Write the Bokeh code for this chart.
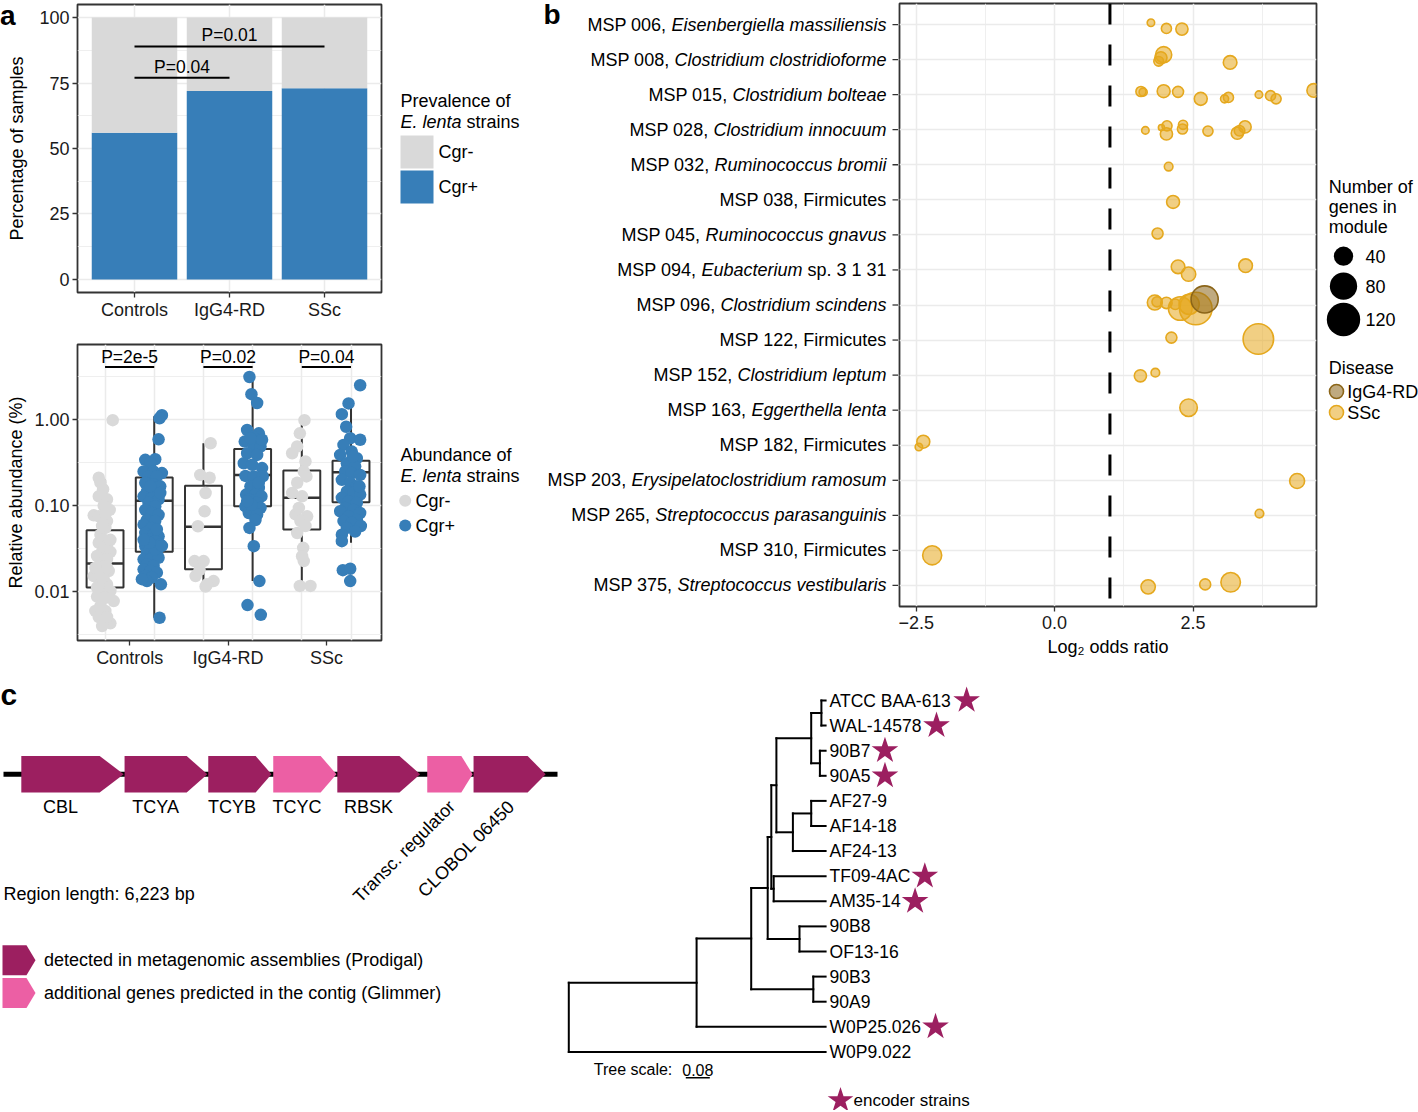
import math
from bokeh.plotting import figure
from bokeh.layouts import row, column
from bokeh.models import Range1d, FixedTicker, PrintfTickFormatter, Div
from bokeh.embed import file_html
from bokeh.resources import INLINE
from bokeh.core.properties import value

# ============================== DATA ==============================
GROUPS = ["Controls", "IgG4-RD", "SSc"]
STRAINS = ["Cgr-", "Cgr+"]

# (a, top) prevalence of E. lenta strains (% of samples that carry Cgr+ strains)
PREV_CGR_POS = [56, 72, 73]
PREV_TOTAL = 100
PREV_P_TEXT = ["P=0.04", "P=0.01"]
PREV_P_FROM = ["Controls", "Controls"]
PREV_P_TO = ["IgG4-RD", "SSc"]
PREV_P_HEIGHT = [77, 89]

# (a, bottom) relative abundance (%) - box summaries
BOX_GROUP = ["Controls", "Controls", "IgG4-RD", "IgG4-RD", "SSc", "SSc"]
BOX_STRAIN = ["Cgr-", "Cgr+", "Cgr-", "Cgr+", "Cgr-", "Cgr+"]
BOX_LO = [0.0040, 0.0050, 0.0115, 0.0133, 0.0115, 0.037]
BOX_Q1 = [0.0112, 0.0291, 0.0182, 0.098, 0.0527, 0.109]
BOX_MED = [0.0213, 0.114, 0.0566, 0.226, 0.123, 0.244]
BOX_Q3 = [0.0517, 0.212, 0.170, 0.454, 0.255, 0.330]
BOX_HI = [0.199, 1.09, 0.528, 3.1, 0.98, 1.45]
ABUND_P_TEXT = ["P=2e-5", "P=0.02", "P=0.04"]
ABUND_P_HEIGHT = 4.05

# individual samples (value, horizontal jitter)
CTRL_NEG = [0.98, 0.21, 0.185, 0.155, 0.128, 0.118, 0.10, 0.089, 0.077, 0.075, 0.066, 0.055,
            0.046, 0.040, 0.037, 0.034, 0.029, 0.029, 0.026, 0.024, 0.021, 0.0195, 0.0174, 0.0174,
            0.0152, 0.0140, 0.0122, 0.0117, 0.0102, 0.0095, 0.0088, 0.0085, 0.0078, 0.0068, 0.0060,
            0.0060, 0.0051, 0.0046, 0.0043, 0.0040, 0.0051, 0.0112, 0.0145, 0.019, 0.019, 0.040,
            0.058, 0.080]
CTRL_NEG_JIT = [0.078, -0.064, -0.047, -0.02, -0.064, 0.02, -0.014, 0.047, -0.115, -0.064, 0.02,
                0.003, -0.047, -0.014, -0.064, 0.02, -0.03, 0.054, -0.081, 0.02, -0.047, -0.014,
                -0.064, 0.037, -0.115, -0.014, 0.02, -0.064, 0.054, -0.03, -0.081, 0.003, 0.088,
                -0.047, -0.098, 0.003, -0.064, -0.014, 0.054, -0.03, 0.02, -0.081, -0.03, 0.02,
                -0.098, 0.054, -0.03, 0.003]
CTRL_POS = [1.12, 1.03, 0.587, 0.339, 0.345, 0.31, 0.249, 0.249, 0.238, 0.218, 0.218, 0.184,
            0.176, 0.167, 0.146, 0.140, 0.128, 0.123, 0.118, 0.107, 0.098, 0.089, 0.082, 0.078,
            0.068, 0.066, 0.060, 0.055, 0.048, 0.046, 0.044, 0.040, 0.0386, 0.0353, 0.0338,
            0.0323, 0.0296, 0.0283, 0.0259, 0.0238, 0.0238, 0.0248, 0.0208, 0.0199, 0.0182,
            0.0174, 0.0167, 0.0152, 0.0146, 0.0133, 0.0140, 0.0122, 0.0050, 0.031, 0.037, 0.034,
            0.040, 0.053, 0.167, 0.140]
CTRL_POS_JIT = [0.078, 0.054, 0.044, -0.091, 0.01, -0.04, -0.108, -0.007, 0.078, -0.058, 0.027,
                -0.091, -0.007, 0.061, -0.074, 0.01, -0.108, -0.024, 0.044, -0.058, 0.01, -0.091,
                -0.024, 0.044, -0.074, 0.01, -0.108, -0.024, -0.091, -0.007, 0.044, -0.058, 0.01,
                0.061, -0.091, -0.024, 0.027, -0.074, -0.007, -0.108, -0.04, 0.044, -0.074, -0.007,
                -0.108, -0.04, 0.027, -0.091, -0.024, -0.074, -0.125, 0.068, 0.054, 0.01, -0.047,
                0.078, -0.108, 0.027, -0.04, 0.061]
IGG_NEG = [0.528, 0.227, 0.21, 0.14, 0.0858, 0.0576, 0.0227, 0.0227, 0.0152, 0.0115, 0.0133,
           0.0122, 0.018]
IGG_NEG_JIT = [0.073, -0.032, 0.063, 0.022, 0.012, -0.056, -0.09, 0.002, -0.08, 0.022, 0.103,
               0.036, -0.039]
IGG_POS = [3.1, 1.96, 1.55, 0.752, 0.689, 0.63, 0.552, 0.492, 0.485, 0.405, 0.387, 0.31, 0.297,
           0.272, 0.221, 0.218, 0.218, 0.167, 0.160, 0.134, 0.134, 0.128, 0.118, 0.107, 0.098,
           0.094, 0.094, 0.082, 0.079, 0.068, 0.055, 0.0338, 0.0133, 0.0070, 0.0054, 0.605, 0.58,
           0.184, 0.102, 0.112]
IGG_POS_JIT = [-0.032, -0.012, 0.046, -0.056, 0.063, 0.002, -0.08, 0.012, 0.08, -0.056, 0.046,
               -0.09, -0.005, 0.096, -0.073, 0.012, 0.103, -0.022, 0.063, -0.066, 0.029, 0.09,
               -0.039, 0.046, -0.073, 0.012, 0.08, -0.039, 0.046, 0.029, -0.032, 0.012, 0.069,
               -0.052, 0.083, -0.022, 0.096, 0.063, -0.012, -0.056]
SSC_NEG = [0.98, 0.689, 0.485, 0.405, 0.325, 0.249, 0.184, 0.140, 0.128, 0.079, 0.075, 0.066,
           0.058, 0.048, 0.0323, 0.0259, 0.0227, 0.0117, 0.0117, 0.094, 0.218]
SSC_NEG_JIT = [0.027, -0.02, -0.047, -0.098, 0.037, 0.02, -0.047, -0.098, 0.003, -0.064, 0.054,
               -0.014, 0.037, -0.047, 0.014, 0.003, 0.02, -0.02, 0.088, -0.03, 0.047]
SSC_POS = [2.49, 1.53, 1.15, 0.822, 0.604, 0.58, 0.505, 0.423, 0.354, 0.387, 0.31, 0.285, 0.249,
           0.238, 0.227, 0.199, 0.184, 0.167, 0.146, 0.140, 0.134, 0.123, 0.112, 0.107, 0.094,
           0.089, 0.082, 0.086, 0.075, 0.068, 0.066, 0.063, 0.058, 0.055, 0.050, 0.046, 0.0386,
           0.0178, 0.0185, 0.0133, 0.167, 0.37]
SSC_POS_JIT = [0.093, -0.025, -0.093, -0.049, -0.008, 0.093, -0.076, 0.008, 0.059, -0.11, -0.042,
               0.042, -0.059, 0.008, 0.093, -0.093, -0.008, 0.059, -0.042, 0.025, 0.093, -0.093,
               -0.025, 0.059, -0.059, 0.025, 0.093, -0.11, -0.025, 0.059, -0.076, 0.008, 0.10,
               -0.042, 0.042, -0.093, -0.093, -0.083, -0.008, -0.008, 0.086, 0.019]

# (b) MSPs and module enrichment
MSP_ID = ["MSP 006", "MSP 008", "MSP 015", "MSP 028", "MSP 032", "MSP 038", "MSP 045", "MSP 094",
          "MSP 096", "MSP 122", "MSP 152", "MSP 163", "MSP 182", "MSP 203", "MSP 265", "MSP 310",
          "MSP 375"]
MSP_TAXON = ["Eisenbergiella massiliensis", "Clostridium clostridioforme", "Clostridium bolteae",
             "Clostridium innocuum", "Ruminococcus bromii", "Firmicutes", "Ruminococcus gnavus",
             "Eubacterium sp. 3 1 31", "Clostridium scindens", "Firmicutes", "Clostridium leptum",
             "Eggerthella lenta", "Firmicutes", "Erysipelatoclostridium ramosum",
             "Streptococcus parasanguinis", "Firmicutes", "Streptococcus vestibularis"]
ODDS_REF = 1.0
MOD_MSP = (["MSP 006"] * 3 + ["MSP 008"] * 4 + ["MSP 015"] * 11 + ["MSP 028"] * 10 +
           ["MSP 032", "MSP 038", "MSP 045"] + ["MSP 094"] * 3 + ["MSP 096"] * 8 +
           ["MSP 122"] * 2 + ["MSP 152"] * 2 + ["MSP 163"] + ["MSP 182"] * 2 +
           ["MSP 203", "MSP 265", "MSP 310"] + ["MSP 375"] * 3)
MOD_LOG2OR = [1.74, 2.02, 2.30,
              1.88, 1.92, 1.97, 3.17,
              1.56, 1.60, 1.97, 2.23, 2.64, 3.07, 3.14, 3.69, 3.90, 4.00, 4.68,
              1.64, 1.93, 2.03, 2.02, 2.32, 2.31, 2.77, 3.30, 3.34, 3.44,
              2.06, 2.14, 1.86,
              2.23, 2.42, 3.45,
              1.81, 1.85, 2.02, 2.18, 2.27, 2.43, 2.55, 2.71,
              2.11, 3.68,
              1.55, 1.82,
              2.42,
              -2.37, -2.45,
              4.38, 3.70, -2.21,
              1.69, 2.72, 3.18]
MOD_GENES = [6, 11, 16,
             10, 16, 28, 20,
             11, 7, 18, 13, 18, 7, 11, 6, 11, 11, 20,
             6, 4, 11, 16, 9, 11, 11, 16, 12, 16,
             8, 18, 13,
             20, 22, 20,
             24, 11, 14, 12, 60, 44, 114, 79,
             13, 100,
             16, 8,
             33,
             18, 6,
             24, 8, 39,
             22, 13, 41]
MOD_DY = [-0.05, 0.11, 0.13,
          0.05, -0.05, -0.14, 0.08,
          -0.09, -0.07, -0.10, -0.08, 0.12, 0.12, 0.08, 0.0, 0.03, 0.12, -0.12,
          0.02, -0.06, -0.11, 0.12, -0.14, -0.02, 0.04, 0.10, 0.03, -0.08,
          0.05, 0.06, -0.04,
          -0.09, 0.12, -0.12,
          -0.07, -0.09, -0.06, -0.02, 0.10, -0.02, 0.10, -0.16,
          -0.07, -0.03,
          0.02, -0.07,
          -0.07,
          -0.10, 0.05,
          0.02, -0.05, 0.14,
          0.04, -0.03, -0.09]
MOD_DISEASE = ["SSc"] * 41 + ["IgG4-RD"] + ["SSc"] * 13
SIZE_BREAKS = [40, 80, 120]
DISEASES = ["IgG4-RD", "SSc"]

# (c) gene cluster
REGION_LEN = 6223
GENE_NAMES = ["CBL", "TCYA", "TCYB", "TCYC", "RBSK", "Transc. regulator", "CLOBOL 06450"]
GENE_START = [200, 1360, 2300, 3030, 3750, 4760, 5280]
GENE_END = [1350, 2290, 3010, 3740, 4680, 5270, 6090]
GENE_SOURCE = ["Prodigal", "Prodigal", "Prodigal", "Glimmer", "Prodigal", "Glimmer", "Prodigal"]
SOURCE_KEYS = ["Prodigal", "Glimmer"]
SOURCE_TEXT = ["detected in metagenomic assemblies (Prodigal)",
               "additional genes predicted in the contig (Glimmer)"]

# (c) tree of E. lenta strains
TREE_TIPS = ["ATCC BAA-613", "WAL-14578", "90B7", "90A5", "AF27-9", "AF14-18", "AF24-13",
             "TF09-4AC", "AM35-14", "90B8", "OF13-16", "90B3", "90A9", "W0P25.026", "W0P9.022"]
TREE_ENCODER = [1, 1, 1, 1, 0, 0, 0, 1, 1, 0, 0, 0, 0, 1, 0]
TREE_TIP_DEPTH = 0.856
NODE_IDS = ["root", "n1", "n2", "n3", "n4", "n5", "n6", "n7", "n8", "n9", "n10", "n11", "n12", "n13"]
NODE_DEPTH = [0.000, 0.426, 0.608, 0.815, 0.663, 0.769, 0.675, 0.683, 0.692, 0.808, 0.842, 0.837,
              0.747, 0.808]
NODE_CHILDREN = [["n1", "W0P9.022"], ["n2", "W0P25.026"], ["n4", "n3"], ["90B3", "90A9"],
                 ["n6", "n5"], ["90B8", "OF13-16"], ["n8", "n7"], ["TF09-4AC", "AM35-14"],
                 ["n9", "n12"], ["n10", "n11"], ["ATCC BAA-613", "WAL-14578"], ["90B7", "90A5"],
                 ["n13", "AF24-13"], ["AF27-9", "AF14-18"]]
TREE_SCALE = 0.08

# ============================== STYLE ==============================
FONT = "Liberation Sans"
DARK = "#333333"
GRID = "#EBEBEB"
GRAY = "#D9D9D9"
BLUE = "#377EB8"
SSC_COL = "#E5A81E"
IGG_COL = "#8B6518"
DIS_COL = {"SSc": SSC_COL, "IgG4-RD": IGG_COL}
MAG = "#9C1F60"
PINK = "#EC5FA4"
SRC_COL = {"Prodigal": MAG, "Glimmer": PINK}
STRAIN_COL = {"Cgr-": GRAY, "Cgr+": BLUE}
MID = 0.3465   # em-box middle above the baseline (fraction of font size)

AW = {' ': 278, ',': 278, '-': 333, '.': 278, ':': 278, '(': 333, ')': 333, '=': 584, '%': 889,
      'A': 667, 'B': 667, 'C': 722, 'D': 722, 'E': 667, 'F': 611, 'G': 778, 'H': 722, 'I': 278,
      'J': 500, 'K': 667, 'L': 556, 'M': 833, 'N': 722, 'O': 778, 'P': 667, 'Q': 778, 'R': 722,
      'S': 667, 'T': 611, 'U': 722, 'V': 667, 'W': 944, 'X': 667, 'Y': 667, 'Z': 611,
      'a': 556, 'b': 556, 'c': 500, 'd': 556, 'e': 556, 'f': 278, 'g': 556, 'h': 556, 'i': 222,
      'j': 222, 'k': 500, 'l': 222, 'm': 833, 'n': 556, 'o': 556, 'p': 556, 'q': 556, 'r': 333,
      's': 500, 't': 278, 'u': 556, 'v': 500, 'w': 722, 'x': 500, 'y': 500, 'z': 500}
for _d in "0123456789":
    AW[_d] = 556


def tw(s, px):
    return sum(AW.get(ch, 556) for ch in s) * px / 1000.0


def add_text(p, x, y, s, size=18, align="left", baseline="middle", style="normal",
             color="black", angle=0.0, x_offset=0):
    p.text(x=[x], y=[y], text=[s], text_font=value(FONT), text_font_size=f"{size}px",
           text_align=align, text_baseline=baseline, text_font_style=style,
           text_color=color, angle=angle, x_offset=x_offset)


def canvas(w, h, xr=None, yr=None, top=0, bottom=0):
    p = figure(width=w, height=h, x_range=xr if xr is not None else Range1d(0, w),
               y_range=yr if yr is not None else Range1d(h - bottom, top),
               output_backend="svg", toolbar_location=None, min_border=0,
               min_border_top=top, min_border_bottom=bottom,
               x_axis_location=None, y_axis_location=None)
    p.grid.visible = False
    p.outline_line_color = None
    p.background_fill_color = "white"
    p.border_fill_color = "white"
    return p


def theme(p):
    p.background_fill_color = "white"
    p.border_fill_color = "white"
    p.outline_line_color = DARK
    p.outline_line_width = 1.8
    for ax in p.axis:
        ax.axis_line_color = None
        ax.major_tick_line_color = DARK
        ax.major_tick_line_width = 1.3
        ax.major_tick_out = 5
        ax.major_tick_in = 0
        ax.minor_tick_line_color = None
        ax.major_label_standoff = 3
        ax.major_label_text_font = FONT
        ax.major_label_text_font_size = "18px"
        ax.major_label_text_color = "#1a1a1a"
        ax.axis_label_text_font = FONT
        ax.axis_label_text_font_size = "18px"
        ax.axis_label_text_font_style = "normal"
        ax.axis_label_text_color = "black"
    for g in p.grid:
        g.grid_line_color = GRID
        g.grid_line_width = 1.5
        g.minor_grid_line_color = GRID
        g.minor_grid_line_width = 0.8


GX = {g: i + 1 for i, g in enumerate(GROUPS)}
DODGE = {"Cgr-": -0.25, "Cgr+": 0.25}

# ============================== PANEL a (top) ==============================
A1_H, A1_T, A1_B = 330, 4, 38
LEG_W = 155
pa1 = figure(width=385, height=A1_H, x_range=Range1d(0.4, 3.6), y_range=Range1d(-5, 105),
             output_backend="svg", toolbar_location=None, min_border_left=77,
             min_border_right=4, min_border_top=A1_T, min_border_bottom=A1_B)
theme(pa1)
tick_x = FixedTicker(ticks=[GX[g] for g in GROUPS])
pa1.xaxis.ticker = tick_x
pa1.xgrid.ticker = tick_x
pa1.xaxis.major_label_overrides = {GX[g]: g for g in GROUPS}
pa1.xaxis.major_label_standoff = 2
tick_y = FixedTicker(ticks=[0, 25, 50, 75, 100], minor_ticks=[12.5, 37.5, 62.5, 87.5])
pa1.yaxis.ticker = tick_y
pa1.ygrid.ticker = tick_y
pa1.yaxis.axis_label = "Percentage of samples"
pa1.yaxis.axis_label_standoff = 9
gx = [GX[g] for g in GROUPS]
pa1.vbar(x=gx, width=0.9, bottom=0, top=PREV_CGR_POS, fill_color=BLUE, line_color=None)
pa1.vbar(x=gx, width=0.9, bottom=PREV_CGR_POS, top=PREV_TOTAL, fill_color=GRAY, line_color=None)
for t, a, b, h in zip(PREV_P_TEXT, PREV_P_FROM, PREV_P_TO, PREV_P_HEIGHT):
    pa1.segment(x0=[GX[a]], x1=[GX[b]], y0=[h], y1=[h], line_color="black", line_width=2)
    add_text(pa1, (GX[a] + GX[b]) / 2, h + 4.3, t, 17.5, align="center")

# panel letter "a" (floats over the top-left corner of the panel)
letter_a = Div(text="a", width=20, height=32,
               styles={"position": "absolute", "left": "0px", "top": "0px", "z-index": "10",
                       "font-family": FONT, "font-size": "28px", "font-weight": "bold",
                       "line-height": "normal", "color": "black", "margin": "0px",
                       "padding": "0px"})

la1 = canvas(LEG_W, A1_H, top=A1_T, bottom=A1_B)
add_text(la1, 15, 100, "Prevalence of", 18)
add_text(la1, 15, 121, "E. lenta", 18, style="italic")
add_text(la1, 15 + tw("E. lenta ", 18), 121, "strains", 18)
for k, s in enumerate(STRAINS):
    top = 135 + k * 35
    la1.quad(left=[15], right=[48], top=[top], bottom=[top + 33], fill_color=STRAIN_COL[s],
             line_color=None)
    add_text(la1, 53, top + 16.5, s, 18)

# ============================== PANEL a (bottom) ==============================
A2_H, A2_T, A2_B = 340, 14, 29
pa2 = figure(width=385, height=A2_H, x_range=Range1d(0.47, 3.56), y_range=Range1d(0.00272, 7.39),
             y_axis_type="log", output_backend="svg", toolbar_location=None,
             min_border_left=77, min_border_right=4, min_border_top=A2_T, min_border_bottom=A2_B)
theme(pa2)
pa2.xaxis.ticker = FixedTicker(ticks=[GX[g] for g in GROUPS])
pa2.xaxis.major_label_overrides = {GX[g]: g for g in GROUPS}
pa2.xaxis.major_label_standoff = 2
pa2.xgrid.ticker = FixedTicker(ticks=sorted(GX[g] + DODGE[s] for g in GROUPS for s in STRAINS))
tick_log = FixedTicker(ticks=[0.01, 0.1, 1], minor_ticks=[0.00316, 0.0316, 0.316, 3.16])
pa2.yaxis.ticker = tick_log
pa2.ygrid.ticker = tick_log
pa2.yaxis.formatter = PrintfTickFormatter(format="%.2f")
pa2.yaxis.axis_label = "Relative abundance (%)"
pa2.yaxis.axis_label_standoff = 5

bx = [GX[g] + DODGE[s] for g, s in zip(BOX_GROUP, BOX_STRAIN)]
pa2.segment(x0=bx, x1=bx, y0=BOX_Q3, y1=BOX_HI, line_color=DARK, line_width=2)
pa2.segment(x0=bx, x1=bx, y0=BOX_LO, y1=BOX_Q1, line_color=DARK, line_width=2)
pa2.vbar(x=bx, width=0.375, bottom=BOX_Q1, top=BOX_Q3, fill_color="white", line_color=DARK,
         line_width=2)
pa2.segment(x0=[x - 0.1875 for x in bx], x1=[x + 0.1875 for x in bx], y0=BOX_MED, y1=BOX_MED,
            line_color=DARK, line_width=2.5)
SAMPLES = [("Controls", "Cgr-", CTRL_NEG, CTRL_NEG_JIT), ("Controls", "Cgr+", CTRL_POS, CTRL_POS_JIT),
           ("IgG4-RD", "Cgr-", IGG_NEG, IGG_NEG_JIT), ("IgG4-RD", "Cgr+", IGG_POS, IGG_POS_JIT),
           ("SSc", "Cgr-", SSC_NEG, SSC_NEG_JIT), ("SSc", "Cgr+", SSC_POS, SSC_POS_JIT)]
for g, s, vals, jit in SAMPLES:
    xs = [GX[g] + DODGE[s] + j for j, v in zip(jit, vals)]
    ys = [v for j, v in zip(jit, vals)]
    pa2.scatter(x=xs, y=ys, size=12.5, fill_color=STRAIN_COL[s], line_color=None)
for g, t in zip(GROUPS, ABUND_P_TEXT):
    pa2.segment(x0=[GX[g] + DODGE["Cgr-"]], x1=[GX[g] + DODGE["Cgr+"]], y0=[ABUND_P_HEIGHT],
                y1=[ABUND_P_HEIGHT], line_color="black", line_width=2)
    add_text(pa2, GX[g], ABUND_P_HEIGHT * 1.31, t, 17.5, align="center")

la2 = canvas(LEG_W, A2_H, top=A2_T, bottom=A2_B)
add_text(la2, 15, 125, "Abundance of", 18)
add_text(la2, 15, 145.5, "E. lenta", 18, style="italic")
add_text(la2, 15 + tw("E. lenta ", 18), 145.5, "strains", 18)
for k, s in enumerate(STRAINS):
    yy = 170.7 + k * 25
    la2.scatter(x=[19.7], y=[yy], size=12, fill_color=STRAIN_COL[s], line_color=None)
    add_text(la2, 30, yy, s, 18)

# ============================== PANEL b ==============================
B_H, B_TOP, B_BOT = 670, 3, 64
NROW = len(MSP_ID)
Y_LO, Y_HI = 0.4, NROW + 0.6
PXR = (B_H - B_TOP - B_BOT) / (Y_HI - Y_LO)
ROW = {m: i + 1 for i, m in enumerate(MSP_ID)}

LAB_W = 358
pbl = canvas(LAB_W, B_H, yr=Range1d(Y_HI, Y_LO), top=B_TOP, bottom=B_BOT)
R = LAB_W - 12
for mid, tax in zip(MSP_ID, MSP_TAXON):
    y = ROW[mid]
    if tax == "Firmicutes":
        parts = [(mid + ", " + tax, "normal")]
    elif " sp. " in tax:
        genus, rest = tax.split(" ", 1)
        parts = [(mid + ",", "normal"), (genus, "italic"), (rest, "normal")]
    else:
        parts = [(mid + ",", "normal"), (tax, "italic")]
    x = R
    for text, style in reversed(parts):
        add_text(pbl, x, y, text, 18, align="right", style=style)
        x -= tw(text, 18) + tw(" ", 18)
rows = [ROW[m] for m in MSP_ID]
pbl.segment(x0=[LAB_W - 6] * NROW, x1=[LAB_W] * NROW, y0=rows, y1=rows, line_color=DARK,
            line_width=1.3)
add_text(pbl, 3, Y_LO + (13.5 - B_TOP) / PXR, "b", 28, style="bold")

PB_W = 420
pb = figure(width=PB_W, height=B_H, x_range=Range1d(-2.8, 4.73), y_range=Range1d(Y_HI, Y_LO),
            output_backend="svg", toolbar_location=None, min_border_left=1, min_border_right=2,
            min_border_top=B_TOP, min_border_bottom=B_BOT, y_axis_location=None,
            x_axis_label="Log\u2082 odds ratio")
theme(pb)
tick_b = FixedTicker(ticks=[-2.5, 0, 2.5], minor_ticks=[-1.25, 1.25, 3.75])
pb.xaxis.ticker = tick_b
pb.xgrid.ticker = tick_b
pb.xaxis.major_label_overrides = {-2.5: "\u22122.5", 0: "0.0", 2.5: "2.5"}
pb.xaxis.major_label_standoff = 4
pb.xaxis.axis_label_standoff = 5
pb.ygrid.ticker = FixedTicker(ticks=rows)
pb.segment(x0=[ODDS_REF], x1=[ODDS_REF], y0=[Y_LO], y1=[Y_HI], line_color="black",
           line_width=3, line_dash="21 20")


def gene_size(n):
    return 3.05 * math.sqrt(n)


for dis in ["SSc", "IgG4-RD"]:
    idx = [i for i, d in enumerate(MOD_DISEASE) if d == dis]
    pb.scatter(x=[MOD_LOG2OR[i] for i in idx], y=[ROW[MOD_MSP[i]] + MOD_DY[i] for i in idx],
               size=[gene_size(MOD_GENES[i]) for i in idx], fill_color=DIS_COL[dis],
               fill_alpha=0.55, line_color=DIS_COL[dis], line_width=1.6)

TOTAL_W = 1418
PBG_W = TOTAL_W - (385 + LEG_W) - LAB_W - PB_W
pbg = canvas(PBG_W, B_H, top=B_TOP, bottom=B_BOT)
for k, t in enumerate(["Number of", "genes in", "module"]):
    add_text(pbg, 10.3, 186 + k * 20, t, 18)
for n, yy in zip(SIZE_BREAKS, [255.7, 285.7, 319]):
    pbg.scatter(x=[25], y=[yy], size=gene_size(n), fill_color="black", line_color=None)
    add_text(pbg, 47, yy, str(n), 18)
add_text(pbg, 10.3, 367, "Disease", 18)
for k, dis in enumerate(DISEASES):
    yy = 391 + k * 21
    pbg.scatter(x=[18], y=[yy], size=14, fill_color=DIS_COL[dis], fill_alpha=0.55,
                line_color=DIS_COL[dis], line_width=1.6)
    add_text(pbg, 28.7, yy, dis, 18)

# ============================== PANEL c: genes ==============================
C_W, ROW2_H = 560, 440
TRACK_PX = 554.0
BPP = REGION_LEN / TRACK_PX


def cx(px):
    return (px - 3) * BPP


pc = canvas(C_W, ROW2_H, xr=Range1d(cx(0), cx(C_W)))
GT, GB = 85.5, 122.0
GM = (GT + GB) / 2
pc.segment(x0=[0], x1=[REGION_LEN], y0=[GM], y1=[GM], line_color="black", line_width=5)
gxs, gys, gcols = [], [], []
for s, e, src in zip(GENE_START, GENE_END, GENE_SOURCE):
    head = min(0.25 * (e - s), 24 * BPP)
    gxs.append([s, e - head, e, e - head, s])
    gys.append([GT, GT, GM, GB, GB])
    gcols.append(SRC_COL[src])
pc.patches(xs=gxs, ys=gys, fill_color=gcols, line_color=None)
for name, s, e in zip(GENE_NAMES, GENE_START, GENE_END):
    head = min(0.25 * (e - s), 24 * BPP)
    if tw(name, 18) * BPP > (e - s):
        add_text(pc, (s + e) / 2 + 2 * BPP, 133, name, 18, align="right", angle=math.pi / 4)
    else:
        add_text(pc, (s + e - head) / 2, 136.6, name, 18, align="center")
add_text(pc, cx(3), 223.4, f"Region length: {REGION_LEN:,} bp", 18)
for k, (src, t) in enumerate(zip(SOURCE_KEYS, SOURCE_TEXT)):
    top = 274.7 + k * 32.8
    bot = top + 30
    pc.patches(xs=[[cx(2), cx(26), cx(35), cx(26), cx(2)]],
               ys=[[top, top, (top + bot) / 2, bot, bot]], fill_color=SRC_COL[src], line_color=None)
    add_text(pc, cx(43.5), (top + bot) / 2, t, 18)
add_text(pc, cx(0), 34 - MID * 30, "c", 30, style="bold")

# ============================== PANEL c: tree ==============================
T_W = TOTAL_W - C_W
ROOT_PX, PXU = 8.3, 300.0
TIP0_PX, TIP_SP = 30.0, 25.1


def tx(px):
    return (px - ROOT_PX) / PXU


def ty(px):
    return (px - TIP0_PX) / TIP_SP


pt = canvas(T_W, ROW2_H, xr=Range1d(tx(0), tx(T_W)), yr=Range1d(ty(ROW2_H), ty(0)))
depth = dict(zip(NODE_IDS, NODE_DEPTH))
children = dict(zip(NODE_IDS, NODE_CHILDREN))
ypos = {t: i for i, t in enumerate(TREE_TIPS)}
for t in TREE_TIPS:
    depth[t] = TREE_TIP_DEPTH


def node_y(n):
    if n not in ypos:
        cy = [node_y(c) for c in children[n]]
        ypos[n] = (min(cy) + max(cy)) / 2
    return ypos[n]


node_y("root")
sx0, sy0, sx1, sy1 = [], [], [], []
for n in NODE_IDS:
    cy = [ypos[c] for c in children[n]]
    sx0.append(depth[n]); sx1.append(depth[n]); sy0.append(min(cy)); sy1.append(max(cy))
    for c in children[n]:
        sx0.append(depth[n]); sx1.append(depth[c]); sy0.append(ypos[c]); sy1.append(ypos[c])
pt.segment(x0=sx0, y0=sy0, x1=sx1, y1=sy1, line_color="black", line_width=2, line_cap="square")
pt.text(x=[TREE_TIP_DEPTH] * len(TREE_TIPS), y=list(range(len(TREE_TIPS))), text=TREE_TIPS,
        text_font=value(FONT), text_font_size="17.5px", text_baseline="middle", x_offset=4,
        text_color="black")
star_x = [TREE_TIP_DEPTH + (4 + tw(t, 17.5) + 14.5) / PXU for t, e in zip(TREE_TIPS, TREE_ENCODER) if e]
star_y = [i for i, e in enumerate(TREE_ENCODER) if e]
pt.scatter(x=star_x, y=star_y, marker="star", size=28, fill_color=MAG, line_color=None)
bar0 = tx(125.3)
pt.segment(x0=[bar0], x1=[bar0 + TREE_SCALE], y0=[ty(407.3)], y1=[ty(407.3)], line_color="black",
           line_width=1.5)
add_text(pt, bar0 + TREE_SCALE / 2, ty(405 - MID * 16), f"{TREE_SCALE:g}", 16, align="center")
add_text(pt, bar0 - 13.5 / PXU, ty(405 - MID * 16), "Tree scale:", 16, align="right")
pt.scatter(x=[tx(280)], y=[ty(430)], marker="star", size=27, fill_color=MAG, line_color=None)
add_text(pt, tx(293), ty(430), "encoder strains", 17)

# ============================== LAYOUT ==============================
a_col = column(letter_a, row(pa1, la1), row(pa2, la2))
layout = column(row(a_col, pbl, pb, pbg), row(pc, pt))
open("out.html", "w").write(file_html(layout, INLINE))
